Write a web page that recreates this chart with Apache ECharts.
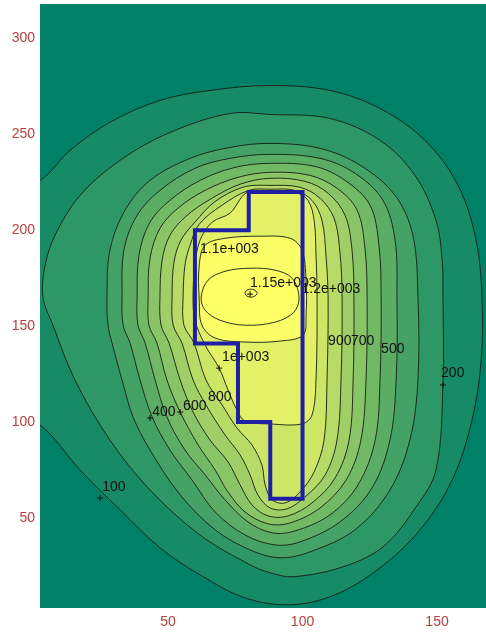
<!DOCTYPE html>
<html><head><meta charset="utf-8">
<script src="https://cdn.jsdelivr.net/npm/echarts@6/dist/echarts.min.js"></script>
<style>html,body{margin:0;padding:0;background:#fff}#c{width:486px;height:637px}</style>
</head><body><div id="c"></div>
<script>
const xTicks = [50, 100, 150];
const yTicks = [50, 100, 150, 200, 250, 300];
const levels = [100, 200, 300, 400, 500, 600, 700, 800, 900, 1000, 1100, 1150, 1200];

const c100 = [[-5,226],[2.4,226],[13.6,241.7],[28.4,256.3],[47,267.7],[65.6,272.9],[87.9,275.5],[110.2,272.9],[128.8,263.5],[145.5,246.9],[157.8,223.4],[164.5,194.8],[166.7,165.1],[166.4,132.3],[163,101],[155.6,69.8],[143.7,43.8],[128.8,24],[112.1,9.9],[95.4,4.7],[78.6,8.3],[61.9,20.3],[47,34.4],[32.2,54.2],[17.3,75],[2.4,98.4],[-5,98.4]];
const c200 = [[3.5,165.1],[4.3,181.8],[8,197.4],[17.3,218.2],[32.2,236.5],[50.7,251],[73,260.9],[87.9,260.4],[110.2,258.3],[128.8,246.9],[141.8,228.6],[149.6,205.2],[151.9,184.4],[152.2,165.1],[152.2,119.3],[149.6,75],[142.2,55.7],[129.9,34.9],[115.1,24.5],[96.5,19.3],[87.9,21.4],[80.5,25.5],[61.9,41.1],[43.3,64.6],[28.4,90.6],[15.4,121.9],[7.2,150.5]];
const c300 = [[27.3,165.1],[28.4,189.6],[34,210.4],[43.3,226],[58.2,237.5],[73,243.2],[87.9,245.3],[106.5,242.7],[121.4,233.9],[134.4,218.2],[141,197.4],[142.9,165.1],[142.9,121.9],[139.9,90.6],[132.5,64.6],[119.5,43.8],[102.8,32.3],[91.6,29.2],[80.5,33.3],[67.5,43.8],[54.5,62],[43.3,85.4],[37,102.6],[32.9,121.9],[29.2,141.1],[27.7,150.5]];
const c400 = [[32.9,165.1],[33.6,189.6],[38.5,207.8],[47,220.8],[60,232.3],[73,237.5],[87.9,239.6],[106.5,237.5],[119.5,229.7],[129.9,215.6],[134.4,194.8],[135.1,165.1],[134.8,121.9],[132.5,90.6],[125.8,65.6],[113.9,47.9],[99.1,37.5],[89.8,35.9],[78.6,41.1],[67.5,53.1],[58.9,69.8],[50.7,85.4],[44.1,102.6],[39.6,121.9],[35.9,141.1],[33.3,150.5]];
const c500 = [[38.5,165.1],[39.2,187],[43.3,204.2],[50.7,215.6],[61.9,226],[74.9,232.8],[87.9,234.9],[104.6,233.3],[115.8,226],[125.1,213],[128.4,192.2],[129.2,165.1],[128.8,121.9],[127,90.6],[120.6,67.2],[110.2,51.6],[97.2,43.2],[88.7,42.2],[79.7,47.9],[71.2,59.4],[63.8,72.4],[56.3,85.4],[49.6,102.6],[45.2,121.9],[41.5,141.1],[38.8,150.5]];
const c600 = [[42.6,165.1],[43.3,185.4],[47,201],[53.7,211.5],[63.8,220.8],[76,227.6],[87.9,230.2],[102.8,228.6],[112.8,221.9],[120.3,210.4],[123.2,190.6],[124,165.1],[123.6,121.9],[121.7,90.6],[116.2,69.8],[106.5,55.2],[95.4,47.4],[87.2,46.9],[78.6,53.1],[72.3,63.5],[67.5,75],[61.2,88],[54.5,105.2],[49.6,121.9],[45.9,141.1],[42.9,150.5]];
const c700 = [[47,165.1],[47.8,184.4],[50.7,197.4],[56.7,207.3],[65.6,216.1],[76.8,224],[87.9,227.1],[100.9,225.5],[109.5,219.3],[115.8,207.8],[118.4,189.6],[119.1,165.1],[118.8,121.9],[117.3,90.6],[112.1,70.8],[103.5,57.8],[94.6,51],[87.2,51],[81.2,56.8],[76.8,67.2],[72.3,79.2],[65.6,90.6],[59.3,105.2],[54.5,121.9],[50.4,141.1],[47.4,150.5]];
const c800 = [[51.5,165.1],[52.2,183.3],[54.8,194.8],[60,204.2],[67.5,215],[78,222.5],[87.9,223.4],[99.1,222.4],[106.5,216.7],[111.7,206.3],[113.9,188.5],[114.7,165.1],[114.3,121.9],[112.8,90.6],[108.4,72.4],[100.9,60.9],[94.2,54.7],[87.9,55.2],[83.4,62],[80.5,72.4],[76.8,82.8],[71.2,93.2],[64.1,108.9],[59.3,121.9],[55.2,141.1],[51.9,150.5]];
const c900 = [[55.6,165.1],[56.3,181.8],[58.2,192.2],[61.5,203],[70,213],[80,220.8],[87.9,221.4],[97.2,220.8],[103.5,215.6],[107.2,205.2],[108.7,187],[109.5,165.1],[109.1,121.9],[108,90.6],[104.3,74],[99.1,63.5],[93.5,57.8],[88.7,59.4],[86.1,67.2],[84.9,77.6],[81.2,88],[75.6,96.9],[70.1,108.9],[64.1,121.9],[59.7,141.1],[55.9,150.5]];
const c1000 = [[59.3,165.1],[60,181.8],[61.9,194.8],[66.4,204.2],[73,208.9],[79.4,219.8],[87.9,220.3],[97.2,219.8],[102,215.6],[104.3,205.2],[105,187],[105.4,165.1],[105,121.9],[103.5,103.6],[99.8,99],[87.9,99],[78.6,100.5],[75.6,106.3],[72.3,116.7],[69,128.1],[63.8,140.1],[60,153.1]];
const c1100 = [[61.6,163.5],[61.6,181.8],[63.8,192.2],[71.2,195.8],[84.2,196.9],[95.4,195.8],[99.8,189.6],[101.3,174],[101.3,155.7],[100.2,145.3],[91.6,142.2],[78.6,141.7],[67.5,143.8],[62.6,150.5]];
const c1150 = [[62.3,165.1],[64.9,174],[71.2,178.6],[80.5,180.2],[89.8,179.2],[96.1,175],[98.7,165.1],[96.8,157.3],[89.8,152.1],[78.6,150.5],[69.3,153.1],[63.8,158.3]];
const c1200 = [[78.6,167.2],[79.7,169],[81.9,169],[83.1,167.2],[81.9,165.4],[79.7,165.4]];
const contours = [c100, c200, c300, c400, c500, c600, c700, c800, c900, c1000, c1100, c1150, c1200];

const source = [[60,200],[80,200],[80,220],[100,220],[100,60],[88,60],[88,100],[76,100],[76,141],[60,141]];

const labelText = ['100','400','600','800','1e+003','1.1e+003','1.15e+003','1.2e+003','900','700','500','200'];
const labelX = [25.5, 44.1, 55.6, 64.9, 70.1, 61.9, 80.5, 99.6, 109.5, 118, 129.2, 151.5];
const labelY = [66.1, 105.2, 108.3, 113, 133.9, 190.1, 172.4, 169.3, 142.2, 142.2, 138, 125.5];

const markX = [24.7, 43.3, 54.5, 69, 152.2, 80.5];
const markY = [60.4, 102.1, 105.2, 128.1, 119.3, 166.7];

function summer(t) {
  t = Math.min(1, t);
  return 'rgb(' + Math.round(255 * t) + ',' + Math.round(128 + 127 * t) + ',102)';
}

const chart = echarts.init(document.getElementById('c'), null, {renderer: 'canvas'});
const axisLabelStyle = {color: '#b8403c', fontSize: 14, fontFamily: 'Liberation Sans, Arial, sans-serif'};
chart.setOption({
  animation: false,
  backgroundColor: '#ffffff',
  grid: {left: 40, right: 0, top: 4, bottom: 29, show: true, backgroundColor: summer(0), borderWidth: 0},
  xAxis: {
    type: 'value', min: 2.4, max: 168.2,
    axisLine: {show: false}, axisTick: {show: false}, splitLine: {show: false},
    axisLabel: Object.assign({customValues: xTicks, margin: 7}, axisLabelStyle)
  },
  yAxis: {
    type: 'value', min: 3, max: 318,
    axisLine: {show: false}, axisTick: {show: false}, splitLine: {show: false},
    axisLabel: Object.assign({customValues: yTicks, margin: 5}, axisLabelStyle)
  },
  series: [
    {
      type: 'custom', coordinateSystem: 'cartesian2d', clip: true, silent: true, z: 1,
      data: levels.map((L, i) => [i, L]),
      renderItem: function (params, api) {
        const i = params.dataIndex;
        const pts = contours[i].map(p => api.coord(p));
        return {
          type: 'polygon',
          shape: {points: pts, smooth: 0.35},
          style: {fill: summer(levels[i] / 1120), stroke: '#141e14', lineWidth: 0.9}
        };
      }
    },
    {
      type: 'custom', coordinateSystem: 'cartesian2d', clip: true, silent: true, z: 3,
      data: labelText.map((t, i) => [labelX[i], labelY[i]]),
      renderItem: function (params, api) {
        const p = api.coord([api.value(0), api.value(1)]);
        return {
          type: 'text', x: p[0], y: p[1],
          style: {text: labelText[params.dataIndex], fill: '#111', font: '14px "Liberation Sans", Arial, sans-serif', align: 'left', verticalAlign: 'middle'}
        };
      }
    },
    {
      type: 'custom', coordinateSystem: 'cartesian2d', clip: true, silent: true, z: 3,
      data: markX.map((x, i) => [x, markY[i]]),
      renderItem: function (params, api) {
        const p = api.coord([api.value(0), api.value(1)]);
        return {
          type: 'group', children: [
            {type: 'line', shape: {x1: p[0] - 3, y1: p[1], x2: p[0] + 3, y2: p[1]}, style: {stroke: '#111', lineWidth: 1}},
            {type: 'line', shape: {x1: p[0], y1: p[1] - 3, x2: p[0], y2: p[1] + 3}, style: {stroke: '#111', lineWidth: 1}}
          ]
        };
      }
    },
    {
      type: 'custom', coordinateSystem: 'cartesian2d', clip: true, silent: true, z: 4,
      data: [[source[0][0], source[0][1]]],
      renderItem: function (params, api) {
        return {
          type: 'polygon',
          shape: {points: source.map(p => api.coord(p))},
          style: {fill: 'none', stroke: '#1f1fa6', lineWidth: 4, lineJoin: 'miter'}
        };
      }
    }
  ]
});
</script></body></html>
